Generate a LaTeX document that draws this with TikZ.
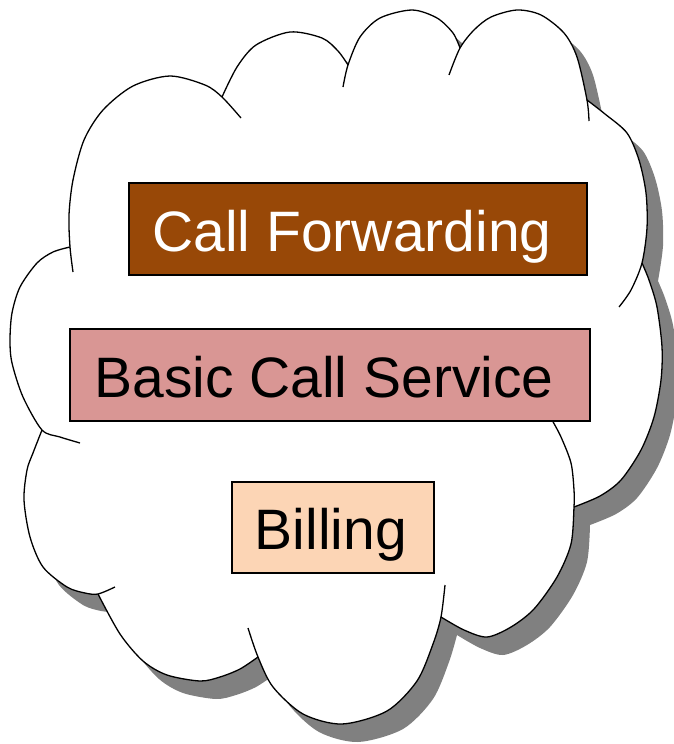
\documentclass[tikz,border=0pt]{standalone}
\usepackage{fontspec}
\setmainfont{Liberation Sans}
\definecolor{cfbrown}{HTML}{984807}
\definecolor{bcspink}{HTML}{D99694}
\definecolor{billpeach}{HTML}{FCD5B5}
\definecolor{shadowgray}{HTML}{808080}
\newcommand\cloudshape[1]{\fill[#1]
  plot[smooth] coordinates {(70,247) (69,215) (73,180) (84,140) (103,110) (133,86) (170,76) (205,85) (222,97)}
  -- plot[smooth] coordinates {(222,97) (237,67) (256,45) (290,32) (322,38) (338,51) (348,65)}
  -- plot[smooth] coordinates {(348,65) (360,37) (380,18) (412,10) (437,18) (453,33) (460,48)}
  -- plot[smooth] coordinates {(460,48) (474,30) (491,17) (517,10) (541,15) (564,33) (577,57) (587,100)}
  -- plot[smooth] coordinates {(587,100) (605,114) (627,133) (639,160) (646,193) (647,228) (642,263)}
  -- plot[smooth] coordinates {(642,263) (649,280) (657,307) (662,347) (661,380) (654,417) (641,450) (621,480) (600,496) (574,507)}
  -- plot[smooth] coordinates {(574,507) (571,544) (557,577) (534,609) (511,627) (487,637) (464,630) (441,617)}
  -- plot[smooth] coordinates {(441,617) (433,644) (417,681) (387,711) (342,724) (303,714) (273,687) (258,657)}
  -- plot[smooth] coordinates {(258,657) (240,669) (220,677) (200,681) (167,675) (143,661) (120,634) (98,594)}
  -- plot[smooth] coordinates {(98,594) (85,593) (67,587) (43,567) (30,537) (24,500) (27,470) (33,453) (42,430)}
  -- plot[smooth] coordinates {(42,430) (23,397) (12,363) (10,340) (12,313) (20,287) (37,263) (53,252) (70,247)}
  -- cycle;}
\begin{document}
\begin{tikzpicture}[x=1pt,y=-1pt,
  cloudline/.style={draw=black,line width=1.3pt},
  svcbox/.style={draw=black,line width=1.3pt,inner sep=0pt,outer sep=0pt},
  svctext/.style={font=\fontsize{57}{57}\selectfont,inner sep=0pt,anchor=base}]
\useasboundingbox (0,0) rectangle (674,744);
% shadow and body of the cloud
\cloudshape{shadowgray,shift={(16,18)}}
\cloudshape{white}
% lobes with their inner stubs
\draw[cloudline] plot[smooth] coordinates {(73,272) (70,247) (69,215) (73,180) (84,140) (103,110) (133,86) (170,76) (205,85) (222,97) (241,118)};
\draw[cloudline] plot[smooth] coordinates {(222,97) (237,67) (256,45) (290,32) (322,38) (338,51) (348,65)};
\draw[cloudline] plot[smooth] coordinates {(343,87) (348,65) (360,37) (380,18) (412,10) (437,18) (453,33) (460,48)};
\draw[cloudline] plot[smooth] coordinates {(449,75) (460,48) (474,30) (491,17) (517,10) (541,15) (564,33) (577,57) (587,100) (589,121)};
\draw[cloudline] plot[smooth] coordinates {(587,100) (605,114) (627,133) (639,160) (646,193) (647,228) (642,263) (631,290) (619,307)};
\draw[cloudline] plot[smooth] coordinates {(642,263) (649,280) (657,307) (662,347) (661,380) (654,417) (641,450) (621,480) (600,496) (574,507)};
\draw[cloudline] plot[smooth] coordinates {(552,420) (561,437) (571,463) (574,490) (574,507) (571,544) (557,577) (534,609) (511,627) (487,637) (464,630) (441,617)};
\draw[cloudline] plot[smooth] coordinates {(445,585) (441,617) (433,644) (417,681) (387,711) (342,724) (303,714) (273,687) (258,657) (248,628)};
\draw[cloudline] plot[smooth] coordinates {(258,657) (240,669) (220,677) (200,681) (167,675) (143,661) (120,634) (98,594)};
\draw[cloudline] plot[smooth] coordinates {(115,587) (98,594) (85,593) (67,587) (43,567) (30,537) (24,500) (27,470) (33,453) (42,430)};
\draw[cloudline] plot[smooth] coordinates {(80,443) (60,437) (42,430) (23,397) (12,363) (10,340) (12,313) (20,287) (37,263) (53,252) (70,247)};
% service boxes
\node[svcbox,fill=cfbrown,minimum width=458pt,minimum height=92pt] (cfbox) at (358,229) {};
\node[svcbox,fill=bcspink,minimum width=520pt,minimum height=92pt] (bcsbox) at (330,375) {};
\node[svcbox,fill=billpeach,minimum width=202pt,minimum height=91pt] (billbox) at (333,527.5) {};
\node[svctext,text=white] (cftext) at (352,251) {Call Forwarding};
\node[svctext,text=black] (bcstext) at (324,397) {Basic Call Service};
\node[svctext,text=black] (billtext) at (331,549) {Billing};
\end{tikzpicture}
\end{document}
